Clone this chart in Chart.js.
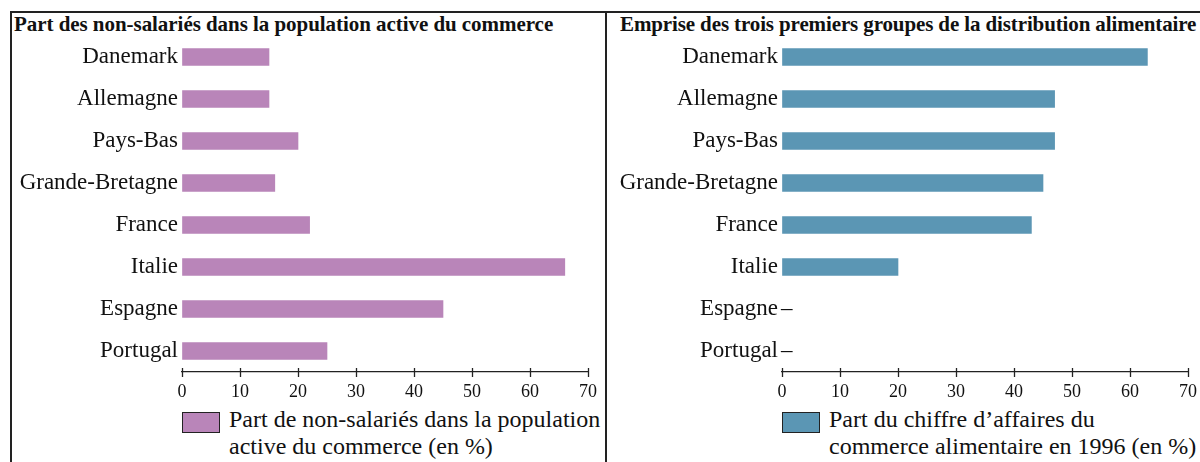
<!DOCTYPE html>
<html>
<head>
<meta charset="utf-8">
<script src="https://cdn.jsdelivr.net/npm/chart.js@4"></script>
<style>
  body { margin: 0; background: #fff; width: 1200px; height: 462px; overflow: hidden; position: relative; font-family: "Liberation Serif", serif; color: #111; }
  .line { position: absolute; background: #222; }
  .title { position: absolute; top: 12px; font-weight: bold; font-size: 21px; white-space: nowrap; }
  .wrap { position: absolute; top: 13px; height: 392px; }
  .legbox { position: absolute; top: 412px; width: 36px; height: 19px; border: 1.5px solid #222; }
  .legtext { position: absolute; top: 406px; font-size: 24px; line-height: 27px; }
</style>
</head>
<body>
<div class="line" style="left:10px; top:11px; width:1190px; height:1.5px;"></div>
<div class="line" style="left:10px; top:11px; width:1.5px; height:451px;"></div>
<div class="line" style="left:605px; top:11px; width:1.5px; height:451px;"></div>

<div class="title" id="title1" style="left:14px; letter-spacing:-0.05px;">Part des non-salariés dans la population active du commerce</div>
<div class="title" id="title2" style="left:620px; letter-spacing:-0.12px;">Emprise des trois premiers groupes de la distribution alimentaire</div>

<div class="wrap" style="left:12px; width:592px;"><canvas id="chart1"></canvas></div>
<div class="wrap" style="left:606px; width:594px;"><canvas id="chart2"></canvas></div>

<div class="legbox" style="left:182px; background:#b985b9;"></div>
<div class="legtext" style="left:229px;">Part de non-salariés dans la population<br>active du commerce (en %)</div>
<div class="legbox" style="left:782px; background:#5b96b4;"></div>
<div class="legtext" style="left:829px;">Part du chiffre d’affaires du<br>commerce alimentaire en 1996 (en %)</div>

<script>
var countries = ['Danemark', 'Allemagne', 'Pays-Bas', 'Grande-Bretagne', 'France', 'Italie', 'Espagne', 'Portugal'];
var nonSalaries = [15, 15, 20, 16, 22, 66, 45, 25];
var emprise = [63, 47, 47, 45, 43, 20, null, null];
var xTicks = [0, 10, 20, 30, 40, 50, 60, 70];

// petites marques qui traversent l'axe + tiret pour les valeurs absentes
var axisMarks = {
    id: 'axisMarks',
    afterDraw: function (chart) {
        var ctx = chart.ctx;
        var x = chart.scales.x, y = chart.scales.y;
        ctx.save();
        ctx.strokeStyle = '#222';
        ctx.lineWidth = 1.3;
        xTicks.forEach(function (v) {
            var px = Math.round(x.getPixelForValue(v)) + 0.5;
            ctx.beginPath();
            ctx.moveTo(px, x.top - 4);
            ctx.lineTo(px, x.top + 5);
            ctx.stroke();
        });
        var data = chart.data.datasets[0].data;
        ctx.fillStyle = '#111';
        ctx.font = '23px "Liberation Serif"';
        ctx.textBaseline = 'middle';
        data.forEach(function (d, i) {
            if (d === null) {
                ctx.fillText('–', x.getPixelForValue(0) - 1, y.getPixelForValue(i));
            }
        });
        ctx.restore();
    }
};

function makeChart(id, values, color, yWidth, padRight) {
    var ctx = document.getElementById(id).getContext('2d');
    return new Chart(ctx, {
        type: 'bar',
        data: {
            labels: countries,
            datasets: [{
                data: values,
                backgroundColor: color,
                borderWidth: 0,
                barThickness: 17
            }]
        },
        options: {
            indexAxis: 'y',
            responsive: true,
            maintainAspectRatio: false,
            animation: false,
            layout: { padding: { top: 23, right: padRight, left: 0, bottom: 0 } },
            plugins: { legend: { display: false }, tooltip: { enabled: false } },
            scales: {
                x: {
                    min: 0,
                    max: 70,
                    afterBuildTicks: function (scale) {
                        scale.ticks = xTicks.map(function (v) { return { value: v }; });
                    },
                    afterFit: function (scale) {
                        scale.height = 33;
                        scale.paddingRight = 0;
                        scale.paddingLeft = 0;
                    },
                    border: { display: true, color: '#222', width: 1.3 },
                    grid: { display: true, drawOnChartArea: false, drawTicks: false },
                    ticks: {
                        color: '#111',
                        padding: 9,
                        maxRotation: 0,
                        font: { family: 'Liberation Serif', size: 18 }
                    }
                },
                y: {
                    afterFit: function (scale) { scale.width = yWidth; },
                    border: { display: false },
                    grid: { display: false, drawTicks: false },
                    ticks: {
                        color: '#111',
                        padding: 4,
                        font: { family: 'Liberation Serif', size: 23 }
                    }
                }
            }
        },
        plugins: [axisMarks]
    });
}

makeChart('chart1', nonSalaries, '#b985b9', 170, 16);
makeChart('chart2', emprise, '#5b96b4', 176, 12);
</script>
</body>
</html>
